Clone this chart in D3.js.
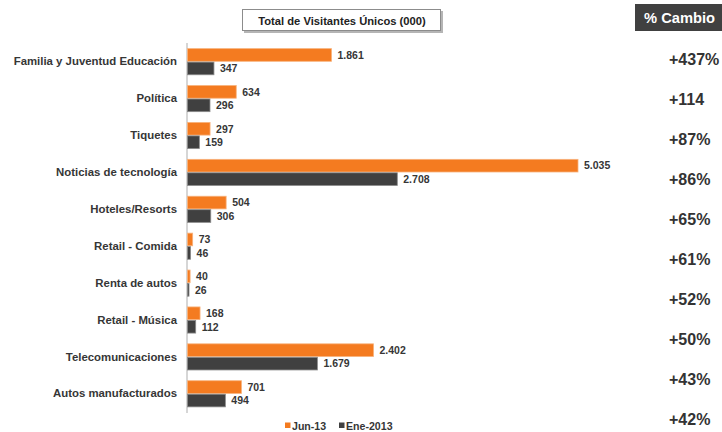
<!DOCTYPE html>
<html>
<head>
<meta charset="utf-8">
<script src="https://cdn.jsdelivr.net/npm/d3@7/dist/d3.min.js"></script>
<style>
  html, body { margin: 0; padding: 0; background: #fff; }
  svg { display: block; font-family: "Liberation Sans", Arial, sans-serif; font-weight: bold; }
</style>
</head>
<body>
<svg id="chart" width="722" height="432"></svg>
<script>
// Categories, top to bottom
const categories = [
  "Familia y Juventud Educación",
  "Política",
  "Tiquetes",
  "Noticias de tecnología",
  "Hoteles/Resorts",
  "Retail - Comida",
  "Renta de autos",
  "Retail - Música",
  "Telecomunicaciones",
  "Autos manufacturados"
];
const seriesNames = ["Jun-13", "Ene-2013"];
// Unique visitors (000)
const jun13 = [1861, 634, 297, 5035, 504, 73, 40, 168, 2402, 701];
const ene2013 = [347, 296, 159, 2708, 306, 46, 26, 112, 1679, 494];
// % change column
const changeLabels = ["+437%", "+114", "+87%", "+86%", "+65%", "+61%", "+52%", "+50%", "+43%", "+42%"];

const title = "Total de Visitantes Únicos (000)";
const changeTitle = "% Cambio";

const colors = { "Jun-13": "#f47b20", "Ene-2013": "#404040" };
const strokes = { "Jun-13": "#f8b27c", "Ene-2013": "#8a8a8a" };
const textColor = "#363636";

const locale = d3.formatLocale({ decimal: ",", thousands: ".", grouping: [3], currency: ["$", ""] });
const fmt = locale.format(",d");

const rows = categories.map((c, i) => ({
  cat: c,
  values: [
    { key: "Jun-13", value: jun13[i] },
    { key: "Ene-2013", value: ene2013[i] }
  ]
}));

const svg = d3.select("#chart");

const x0 = 187;
const x = d3.scaleLinear().domain([0, 5035]).range([x0, 578]);
const y = d3.scaleBand().domain(categories).range([43.25, 412.25]).paddingInner(0.27).paddingOuter(0.135);
const y1 = d3.scaleBand().domain(seriesNames).range([0, y.bandwidth()]);

// Title box with soft shadow
const tb = svg.append("g");
tb.append("rect").attr("x", 244).attr("y", 11).attr("width", 199).attr("height", 22).attr("fill", "#b5b5b5");
tb.append("rect").attr("x", 242.5).attr("y", 9.5).attr("width", 198).attr("height", 21)
  .attr("fill", "#fff").attr("stroke", "#8c8c8c").attr("stroke-width", 1);
tb.append("text").attr("x", 342).attr("y", 24.5).attr("text-anchor", "middle")
  .attr("font-size", "11.2px").attr("fill", "#222").text(title);

// % Cambio header
svg.append("rect").attr("x", 635).attr("y", 4).attr("width", 87).attr("height", 27).attr("fill", "#404040");
svg.append("text").attr("x", 644).attr("y", 23).attr("font-size", "14.7px").attr("fill", "#fff").text(changeTitle);

// Category axis
const axis = d3.axisLeft(y).tickSize(0).tickPadding(10);
const ax = svg.append("g").attr("transform", `translate(${x0},0)`).call(axis);
ax.select(".domain").attr("stroke", "#c8c8c8").attr("stroke-width", 1.5)
  .attr("d", `M0,43V413`);
ax.selectAll(".tick text")
  .attr("font-family", "Liberation Sans, Arial, sans-serif")
  .attr("font-weight", "bold")
  .attr("font-size", "11.4px")
  .attr("fill", textColor);

// Bars
const groups = svg.append("g").selectAll("g").data(rows).join("g")
  .attr("transform", d => `translate(0,${y(d.cat)})`);

groups.selectAll("rect").data(d => d.values).join("rect")
  .attr("x", x(0) + 0.5)
  .attr("y", d => y1(d.key) + 0.4)
  .attr("width", d => Math.max(0, x(d.value) - x(0) - 0.5))
  .attr("height", y1.bandwidth() - 0.8)
  .attr("fill", d => colors[d.key])
  .attr("stroke", d => strokes[d.key])
  .attr("stroke-width", 0.8);

groups.selectAll("text").data(d => d.values).join("text")
  .attr("x", d => x(d.value) + 6)
  .attr("y", d => y1(d.key) + y1.bandwidth() / 2)
  .attr("dy", "0.36em")
  .attr("font-size", "10.5px")
  .attr("fill", textColor)
  .text(d => fmt(d.value));

// % change column
const yc = d3.scalePoint().domain(categories).range([59, 419]);
svg.append("g").selectAll("text").data(categories).join("text")
  .attr("x", 669)
  .attr("y", d => yc(d))
  .attr("dy", "0.36em")
  .attr("font-size", "16px")
  .attr("fill", "#333")
  .text((d, i) => changeLabels[i]);

// Legend
const leg = svg.append("g");
const legPos = [285, 339];
seriesNames.forEach((s, i) => {
  leg.append("rect").attr("x", legPos[i]).attr("y", 422.5).attr("width", 5.5).attr("height", 5.5).attr("fill", colors[s]);
  leg.append("text").attr("x", legPos[i] + 7).attr("y", 429.5).attr("font-size", "10.6px").attr("fill", textColor).text(s);
});
</script>
</body>
</html>
